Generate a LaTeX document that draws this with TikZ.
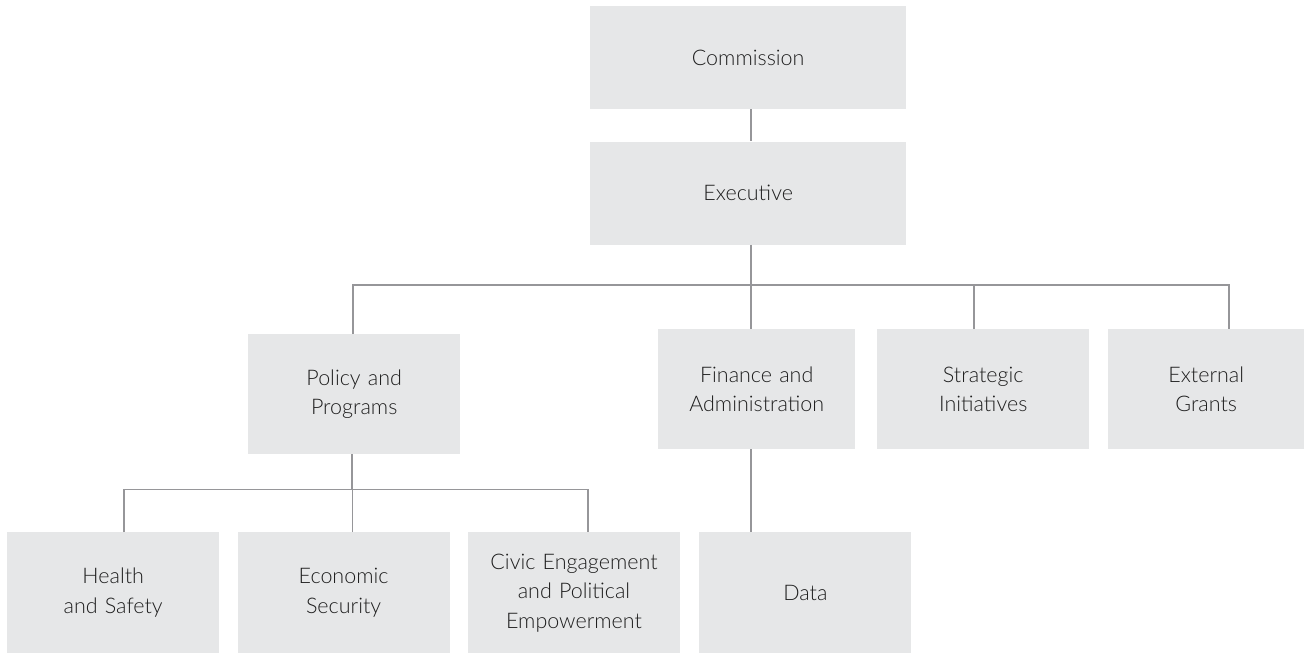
\documentclass[tikz,border=0pt]{standalone}
\usepackage{fontspec}
\setmainfont{Lato Light}
\usetikzlibrary{positioning}
\definecolor{boxgray}{RGB}{230,231,232}
\definecolor{linegray}{RGB}{150,150,153}
\definecolor{textgray}{RGB}{30,30,30}
\tikzset{
  unit/.style={
    rectangle,
    fill=boxgray,
    anchor=north west,
    minimum width=212pt,
    minimum height=120pt,
    text width=188pt,
    align=center,
    inner sep=0pt,
    text=textgray,
    font=\fontsize{21.5}{29.5}\selectfont
  },
  link/.style={
    draw=linegray,
    line width=1.6pt
  }
}
\begin{document}
\begin{tikzpicture}[x=1pt, y=-1pt]
\useasboundingbox (0,0) rectangle (1304,653);

% Top of the chart
\node[unit, minimum width=316pt, minimum height=103pt] (commission) at (590,6) {Commission};
\node[unit, minimum width=316pt, minimum height=103pt, below=32pt of commission.south west, anchor=north west] (executive) {Executive};

% Second row
\node[unit] (policy) at (248,334) {Policy and\\Programs};
\node[unit, minimum width=197pt] (finance) at (658,329) {Finance and\\Administration};
\node[unit] (strategic) at (877,329) {Strategic\\Initiatives};
\node[unit, minimum width=196pt] (grants) at (1108,329) {External\\Grants};

% Bottom row
\node[unit, minimum height=121pt] (health) at (7,532) {Health\\and Safety};
\node[unit, minimum height=121pt, right=18pt of health.north east, anchor=north west] (economic) {Economic\\Security};
\node[unit, minimum height=121pt, right=18pt of economic.north east, anchor=north west] (civic) {Civic Engagement\\and Political\\Empowerment};
\node[unit, minimum height=121pt, right=19pt of civic.north east, anchor=north west] (data) {Data};

% Connectors
\draw[link] ([xshift=3pt]commission.south) -- ([xshift=3pt]executive.north);
\draw[link] ([xshift=3pt]executive.south) -- ++(0,40) coordinate (hub);
\draw[link] ([xshift=-1pt]policy.north) |- (hub) -| ([xshift=23pt]grants.north);
\draw[link] (hub) -- (hub |- finance.north);
\draw[link] ([xshift=-9pt]strategic.north) -- ([xshift=-9pt]strategic.north |- hub);

\draw[link] ([xshift=-2pt]policy.south) -- ++(0,35) coordinate (subhub);
\draw[link] ([xshift=11pt]health.north) |- (subhub) -| ([xshift=14pt]civic.north);
\draw[link] ([xshift=9pt]economic.north) -- ([xshift=9pt]economic.north |- subhub);

\draw[link] (hub |- finance.south) -- (hub |- data.north);

\end{tikzpicture}
\end{document}
